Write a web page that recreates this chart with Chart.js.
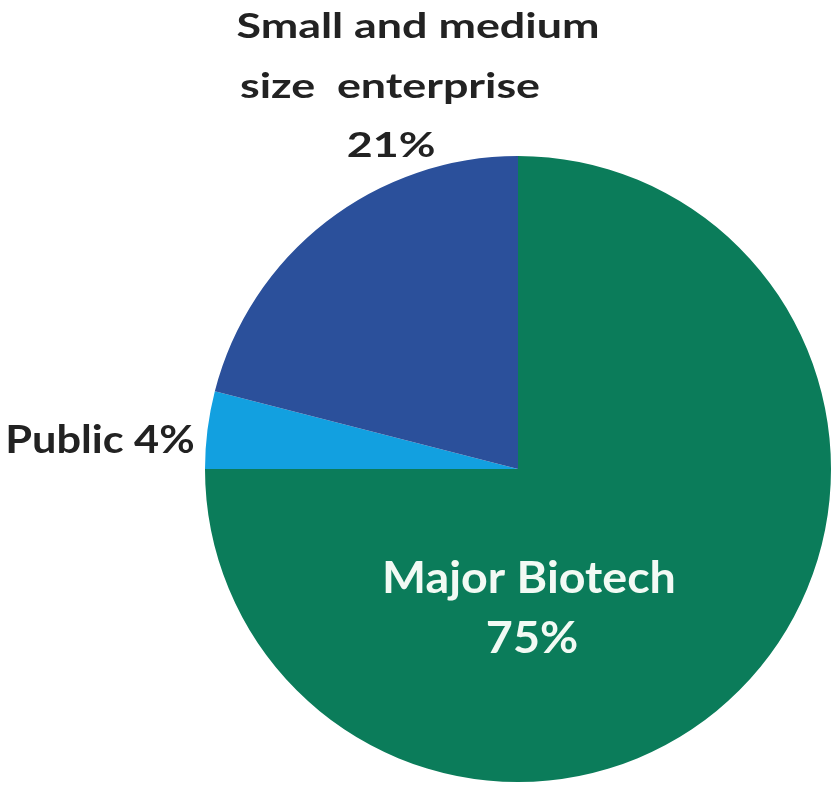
<!DOCTYPE html>
<html>
<head>
<meta charset="utf-8">
<title>Biotech share</title>
<script src="https://cdn.jsdelivr.net/npm/chart.js@4.4.1/dist/chart.umd.min.js"></script>
<style>
    html, body { margin: 0; padding: 0; background: #ffffff; }
    #pie { display: block; }
</style>
</head>
<body>
<canvas id="pie" width="838" height="786"></canvas>
<script>
// Slices, clockwise from 12 o'clock
const sectors = ['Major Biotech', 'Public', 'Small and medium size enterprise'];
const shares = [75, 4, 21];
const sliceColors = ['#0b7c5a', '#12a0e0', '#2b509b'];

// Text of each slice label, one entry per line
const labelLines = [
    ['Major Biotech', '75%'],
    ['Public 4%'],
    ['Small and medium', 'size  enterprise', '21%']
];

// Label blocks relative to the pie centre: x of each line, first baseline, line step,
// font size and a horizontal stretch for the wide label face
const labelSpots = [
    { xs: [11, 14], dy: 124, step: 60, color: '#f2faf4', size: 44, sx: 1.06 },
    { xs: [-418], dy: -16, step: 0, color: '#222222', size: 39, sx: 1.11 },
    { xs: [-100, -128, -127], dy: -431, step: 59.5, color: '#222222', size: 35, sx: 1.28 }
];

const sliceLabels = {
    id: 'sliceLabels',
    afterDatasetsDraw(chart) {
        const ctx = chart.ctx;
        const arc = chart.getDatasetMeta(0).data[0];
        const cx = arc.x;
        const cy = arc.y;
        ctx.textAlign = 'center';
        ctx.textBaseline = 'alphabetic';
        labelLines.forEach((lines, i) => {
            const spot = labelSpots[i];
            lines.forEach((line, j) => {
                ctx.save();
                ctx.translate(cx + spot.xs[j], cy + spot.dy + j * spot.step);
                ctx.scale(spot.sx, 1);
                ctx.fillStyle = spot.color;
                ctx.font = 'bold ' + spot.size + 'px Lato, "Open Sans", sans-serif';
                ctx.fillText(line, 0, 0);
                ctx.restore();
            });
        });
    }
};

new Chart(document.getElementById('pie').getContext('2d'), {
    type: 'pie',
    data: {
        labels: sectors,
        datasets: [{
            data: shares,
            backgroundColor: sliceColors,
            borderWidth: 0
        }]
    },
    options: {
        responsive: false,
        animation: false,
        devicePixelRatio: 1,
        layout: {
            padding: { top: 156, bottom: 4, left: 205, right: 7 }
        },
        plugins: {
            legend: { display: false },
            tooltip: { enabled: false }
        }
    },
    plugins: [sliceLabels]
});
</script>
</body>
</html>
